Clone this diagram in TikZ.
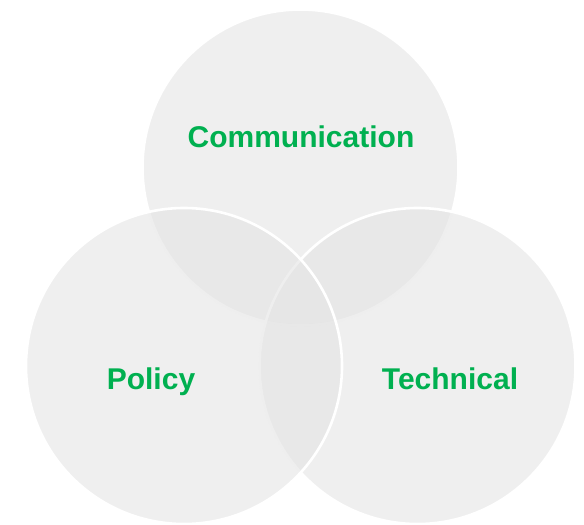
\documentclass[tikz,border=0pt]{standalone}
\usepackage{fontspec}
\setmainfont{Liberation Sans}
\definecolor{ringfill}{HTML}{E4E4E4}
\definecolor{labelgreen}{HTML}{00B050}
\tikzset{
 area/.style={circle,draw=white,line width=2.6pt,fill=ringfill,fill opacity=.6,minimum size=316pt,inner sep=0pt},
 topic/.style={font=\fontsize{30}{36}\selectfont\bfseries,text=labelgreen,inner sep=0pt,anchor=base},
}

\begin{document}
\begin{tikzpicture}[x=1pt,y=-1pt]
\useasboundingbox (0,0) rectangle (584,525);

% three overlapping areas, left one drawn last so its rim sits on top
\node[area] (comm) at (300.5,167.5) {};
\node[area] (tech) at (417.5,366) {};
\node[area] (policy) at (184,366) {};

\node[topic] (commlabel) at (301,147) {Communication};
\node[topic] (policylabel) at (151,389) {Policy};
\node[topic] (techlabel) at (450,389) {Technical};
\end{tikzpicture}
\end{document}
